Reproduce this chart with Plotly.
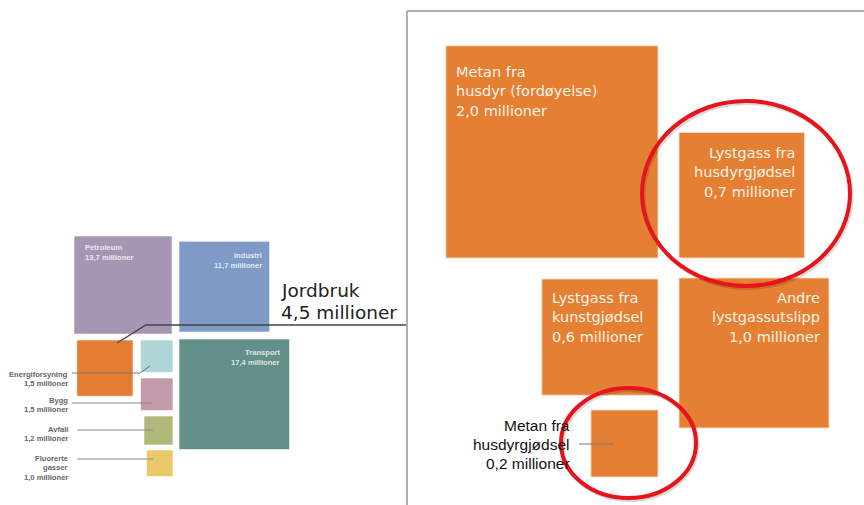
import numpy as np
import plotly.graph_objects as go

# ---------------- data ----------------
sectors = ["Petroleum", "Industri", "Transport", "Jordbruk",
           "Energiforsyning", "Bygg", "Avfall", "Fluorerte<br>gasser"]
sector_values = [13.7, 11.7, 17.4, 4.5, 1.5, 1.5, 1.2, 1.0]

sources = ["Metan fra<br>husdyr (fordøyelse)", "Lystgass fra<br>husdyrgjødsel",
           "Lystgass fra<br>kunstgjødsel", "Andre<br>lystgassutslipp",
           "Metan fra<br>husdyrgjødsel"]
source_values = [2.0, 0.7, 0.6, 1.0, 0.2]

unit = "millioner"

# ---------------- styles / layout ----------------
sector_colors = ["#A596B4", "#7F9AC6", "#64908A", "#E47D32",
                 "#AED6D6", "#C39AA9", "#B1B97A", "#EAC86B"]
orange = "#E57F33"

# side length in pixels = k * sqrt(value)
k_left = 26.5
k_right = 150.0

# anchors: (x, 'l'/'r', y, 't'/'b')
sector_anchor = [(74, "l", 236, "t"), (179, "l", 332, "b"), (179, "l", 339, "t"),
                 (133, "r", 340, "t"), (173, "r", 340, "t"), (173, "r", 378, "t"),
                 (173, "r", 416, "t"), (173, "r", 450, "t")]
source_anchor = [(658, "r", 258, "b"), (679, "l", 258, "b"), (658, "r", 279, "t"),
                 (679, "l", 278, "t"), (658, "r", 477, "b")]


def fmt(v):
    return f"{v:.1f}".replace(".", ",") + " " + unit


def box(anchor, side):
    x, ha, y, va = anchor
    x0, x1 = (x, x + side) if ha == "l" else (x - side, x)
    y0, y1 = (y, y + side) if va == "t" else (y - side, y)
    return x0, x1, y0, y1


fig = go.Figure()
fig.add_trace(go.Scatter(x=[0, 864], y=[0, 505], mode="markers",
                         marker=dict(opacity=0), hoverinfo="skip", showlegend=False))

# left squares
for name, v, col, anc in zip(sectors, sector_values, sector_colors, sector_anchor):
    x0, x1, y0, y1 = box(anc, k_left * np.sqrt(v))
    fig.add_shape(type="rect", x0=x0, x1=x1, y0=y0, y1=y1, xref="x", yref="y",
                  fillcolor=col, line=dict(color="rgba(255,255,255,0.6)", width=1),
                  layer="below")

# right squares
for name, v, anc in zip(sources, source_values, source_anchor):
    x0, x1, y0, y1 = box(anc, k_right * np.sqrt(v))
    fig.add_shape(type="rect", x0=x0, x1=x1, y0=y0, y1=y1, xref="x", yref="y",
                  fillcolor=orange, line=dict(color="rgba(255,225,200,0.8)", width=1),
                  layer="below")

annotations = []


def add_lines(lines, x, y, dy, xanchor, size, color, family, bold=False):
    for i, t in enumerate(lines):
        txt = f"<b>{t}</b>" if bold else t
        annotations.append(dict(x=x, y=y + i * dy, xref="x", yref="y", text=txt,
                                showarrow=False, xanchor=xanchor, yanchor="middle",
                                font=dict(size=size, color=color, family=family)))


small_font = "Liberation Sans"
# inside labels (left panel)
inside_pos = {0: (83, 247, "left"), 1: (264, 255, "right"), 2: (282, 352, "right")}
for i, (x, y, xa) in inside_pos.items():
    lines = sectors[i].split("<br>") + [fmt(sector_values[i])]
    add_lines(lines, x, y, 10.5, xa, 7.6, "rgba(255,255,255,0.8)", small_font, bold=True)

# outside labels with leaders (left panel)
outside_pos = {4: (70, 374), 5: (70, 400), 6: (70, 429), 7: (70, 458)}
for i, (x, y) in outside_pos.items():
    lines = sectors[i].split("<br>") + [fmt(sector_values[i])]
    add_lines(lines, x, y, 9.8, "right", 7.6, "#666666", small_font, bold=True)

# Jordbruk big label
add_lines([sectors[3], fmt(sector_values[3])], 279, 290, 22, "left", 18.5, "#222222", "DejaVu Sans")

# right panel labels
right_pos = {0: (454, 72, "left"), 1: (797, 153, "right"), 2: (550, 298, "left"),
             3: (822, 298, "right")}
for i, (x, y, xa) in right_pos.items():
    lines = sources[i].split("<br>") + [fmt(source_values[i])]
    add_lines(lines, x, y, 19.3, xa, 14.5, "#FFF4E8", "DejaVu Sans")
lines = sources[4].split("<br>") + [fmt(source_values[4])]
add_lines(lines, 572, 425, 19, "right", 15.5, "#111111", "Liberation Sans")

# leader lines
leaders = [
    [(117, 343), (146, 325), (407, 325)],
    [(72, 373), (140, 373), (150, 366)],
    [(72, 403), (152, 403)],
    [(77, 430), (153, 430)],
    [(77, 459), (153, 459)],
    [(579, 444), (613, 444)],
]
leader_style = [("#444444", 1.3), ("#777777", 1), ("#888888", 1), ("#888888", 1),
                ("#888888", 1), ("#777777", 1)]
for pts, (c, w) in zip(leaders, leader_style):
    fig.add_trace(go.Scatter(x=[p[0] for p in pts], y=[p[1] for p in pts], mode="lines",
                             line=dict(color=c, width=w), hoverinfo="skip", showlegend=False))

# frame of right panel
fig.add_shape(type="line", x0=407, x1=407, y0=11, y1=505, xref="x", yref="y",
              line=dict(color="#B0B0B0", width=2))
fig.add_shape(type="line", x0=407, x1=864, y0=11, y1=11, xref="x", yref="y",
              line=dict(color="#B0B0B0", width=2))

# red highlight circles (with faint shadow)
circles = [(642, 850, 101, 286), (561, 696, 388, 498)]
for x0, x1, y0, y1 in circles:
    fig.add_shape(type="circle", x0=x0 + 1.5, x1=x1 + 1.5, y0=y0 + 2, y1=y1 + 2,
                  xref="x", yref="y", line=dict(color="rgba(0,0,0,0.15)", width=4))
    fig.add_shape(type="circle", x0=x0, x1=x1, y0=y0, y1=y1, xref="x", yref="y",
                  line=dict(color="#E8141B", width=4))

fig.update_layout(
    width=864, height=505,
    margin=dict(l=0, r=0, t=0, b=0),
    paper_bgcolor="white", plot_bgcolor="white",
    xaxis=dict(range=[0, 864], visible=False, fixedrange=True),
    yaxis=dict(range=[505, 0], visible=False, fixedrange=True),
    showlegend=False,
    annotations=annotations,
)

fig.write_html("out.html", config={"displayModeBar": False},
               post_script="document.body.style.margin='0';document.body.style.overflow='hidden';")
